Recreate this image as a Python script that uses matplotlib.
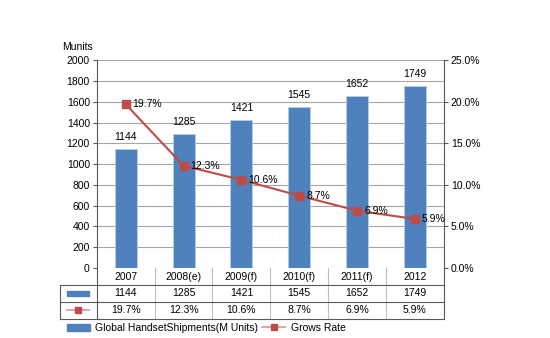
import matplotlib.pyplot as plt
from matplotlib.patches import Rectangle
from matplotlib.lines import Line2D
from matplotlib.transforms import blended_transform_factory
import numpy as np

plt.rcParams['font.family'] = ['Liberation Sans', 'DejaVu Sans']
plt.rcParams['font.size'] = 7.5

years = ['2007', '2008(e)', '2009(f)', '2010(f)', '2011(f)', '2012']
shipments = [1144, 1285, 1421, 1545, 1652, 1749]
grow_rate = [19.7, 12.3, 10.6, 8.7, 6.9, 5.9]

bar_c = '#4F81BD'
line_c = '#BE4B48'
grid_c = '#A6A6A6'

fig = plt.figure(figsize=(5.5, 3.38), dpi=100)
ax = fig.add_axes([0.176, 0.207, 0.631, 0.615])
x = np.arange(len(years))

ax.bar(x, shipments, width=0.38, color=bar_c, edgecolor='#B9CDE5', linewidth=0.6, zorder=2)
for xi, v in zip(x, shipments):
    ax.text(xi, v + 70, str(v), ha='center', va='bottom')

ax.set_xlim(-0.5, len(years) - 0.5)
ax.set_ylim(0, 2000)
ax.set_yticks(range(0, 2001, 200))
ax.set_xticks([])
ax.grid(axis='y', color=grid_c, linewidth=0.8, zorder=0)
for s in ['top', 'right', 'bottom']:
    ax.spines[s].set_visible(False)
ax.spines['left'].set_color('#595959')
ax.tick_params(axis='y', length=3, color='#595959', pad=2)
ax.text(-0.055, 1.04, 'Munits', transform=ax.transAxes, ha='center', va='bottom')

ax2 = ax.twinx()
ax2.plot(x, grow_rate, color=line_c, linewidth=1.5, marker='s', markersize=6, zorder=3)
for xi, v in zip(x, grow_rate):
    ax2.annotate(f'{v}%', (xi, v), xytext=(5, 0), textcoords='offset points',
                 ha='left', va='center')
ax2.set_ylim(0, 25)
ax2.set_yticks(range(0, 26, 5))
ax2.set_yticklabels([f'{t:.1f}%' for t in range(0, 26, 5)])
for s in ['top', 'left', 'bottom']:
    ax2.spines[s].set_visible(False)
ax2.spines['right'].set_color('#595959')
ax2.tick_params(axis='y', length=3, color='#595959', pad=2)

# data table under the chart
tr = blended_transform_factory(ax.transData, ax.transAxes)
r1, r2, r3 = -0.082, -0.163, -0.245
hx = -0.107
for i in range(1, len(years)):
    ax.plot([i - 0.5, i - 0.5], [0, r3], color='#BFBFBF', lw=0.8, transform=tr, clip_on=False)
ax.plot([0, 0], [0, r3], color='#595959', lw=0.8, transform=ax.transAxes, clip_on=False)
ax.plot([1, 1], [0, r3], color='#595959', lw=0.8, transform=ax.transAxes, clip_on=False)
ax.plot([hx, 1], [r1, r1], color='#595959', lw=0.8, transform=ax.transAxes, clip_on=False)
ax.plot([hx, 1], [r2, r2], color='#595959', lw=0.8, transform=ax.transAxes, clip_on=False)
ax.plot([hx, 1], [r3, r3], color='#595959', lw=0.8, transform=ax.transAxes, clip_on=False)
ax.plot([hx, hx], [r1, r3], color='#595959', lw=0.8, transform=ax.transAxes, clip_on=False)

for xi, yr, s, g in zip(x, years, shipments, grow_rate):
    ax.text(xi, (0 + r1) / 2, yr, ha='center', va='center', transform=tr)
    ax.text(xi, (r1 + r2) / 2, str(s), ha='center', va='center', transform=tr)
    ax.text(xi, (r2 + r3) / 2, f'{g}%', ha='center', va='center', transform=tr)

ax.add_patch(Rectangle((hx + 0.02, (r1 + r2) / 2 - 0.014), 0.064, 0.028, color=bar_c,
                       transform=ax.transAxes, clip_on=False))
ax.add_line(Line2D([hx + 0.02, hx + 0.084], [(r2 + r3) / 2] * 2, color='#D99694', lw=1.2,
                   transform=ax.transAxes, clip_on=False))
ax.add_line(Line2D([hx + 0.052], [(r2 + r3) / 2], color=line_c, marker='s', markersize=4,
                   transform=ax.transAxes, clip_on=False))

handles = [Rectangle((0, 0), 1, 1, color=bar_c),
           Line2D([], [], color='#D99694', lw=1.2, marker='s', markersize=4,
                  markerfacecolor=line_c, markeredgecolor=line_c)]
fig.legend(handles, ['Global HandsetShipments(M Units)', 'Grows Rate'], ncol=2,
           loc='center left', bbox_to_anchor=(0.105, 0.03), frameon=False,
           handlelength=2.2, handleheight=0.7, columnspacing=0.4, handletextpad=0.5,
           fontsize=7.5)

fig.savefig('out.png', dpi=100)
